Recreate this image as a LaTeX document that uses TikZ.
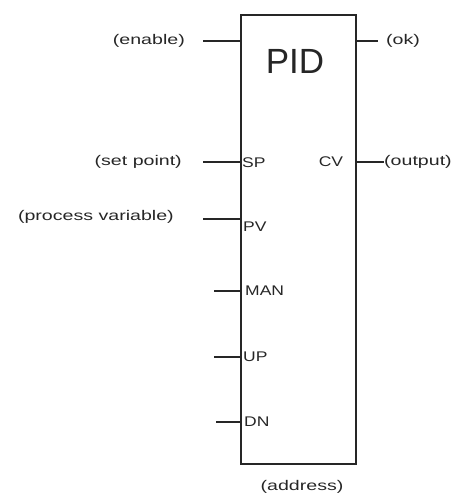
\documentclass[tikz,border=0pt]{standalone}
\usepackage{fontspec}
\setmainfont{Liberation Sans}
\newfontfamily\lblfont[FakeStretch=1.4]{Liberation Sans}
\newfontfamily\pinfont[FakeStretch=1.25]{Liberation Sans}
\begin{document}
\begin{tikzpicture}[x=1pt,y=-1pt,
  wire/.style={line width=1.6pt,draw=black!85},
  lbl/.style={font=\lblfont\fontsize{14}{16}\selectfont,inner sep=0pt,text=black!85},
  pin/.style={font=\pinfont\fontsize{14}{16}\selectfont,inner sep=0pt,anchor=west,text=black!85}]
\useasboundingbox (0,0) rectangle (451,497);
\node[draw=black!85,line width=1.6pt,minimum width=115pt,minimum height=449pt,inner sep=0pt,anchor=north west] (box) at (240,14) {};
\node[font=\fontsize{35}{40}\selectfont,inner sep=0pt,text=black!85] (pid) at (295,61) {PID};
% left labels
\node[lbl,anchor=east] (enable) at (185,41) {(enable)};
\node[lbl,anchor=east] (setpoint) at (182,162) {(set point)};
\node[lbl,anchor=east] (pvar) at (174,217) {(process variable)};
% right labels
\node[lbl,anchor=west] (ok) at (386,41) {(ok)};
\node[lbl,anchor=west] (output) at (384,162) {(output)};
\node[lbl] (address) at (302,487) {(address)};
% pin labels
\node[pin] (sp) at (242,163) {SP};
\node[pin] (pv) at (243,227) {PV};
\node[pin] (man) at (245,291) {MAN};
\node[pin] (up) at (243,357) {UP};
\node[pin] (dn) at (244,422) {DN};
\node[pin,anchor=center] (cv) at (331,162) {CV};
% wire ends
\coordinate (wen) at (203,41);
\coordinate (wsp) at (203,162);
\coordinate (wpv) at (203,219);
\coordinate (wman) at (214,291);
\coordinate (wup) at (214,357);
\coordinate (wdn) at (216,422);
\coordinate (wok) at (378,41);
\coordinate (wcv) at (384,162);
\draw[wire] (wen) -- (wen -| box.west);
\draw[wire] (wsp) -- (wsp -| box.west);
\draw[wire] (wpv) -- (wpv -| box.west);
\draw[wire] (wman) -- (wman -| box.west);
\draw[wire] (wup) -- (wup -| box.west);
\draw[wire] (wdn) -- (wdn -| box.west);
\draw[wire] (wok -| box.east) -- (wok);
\draw[wire] (wcv -| box.east) -- (wcv);
\end{tikzpicture}
\end{document}
